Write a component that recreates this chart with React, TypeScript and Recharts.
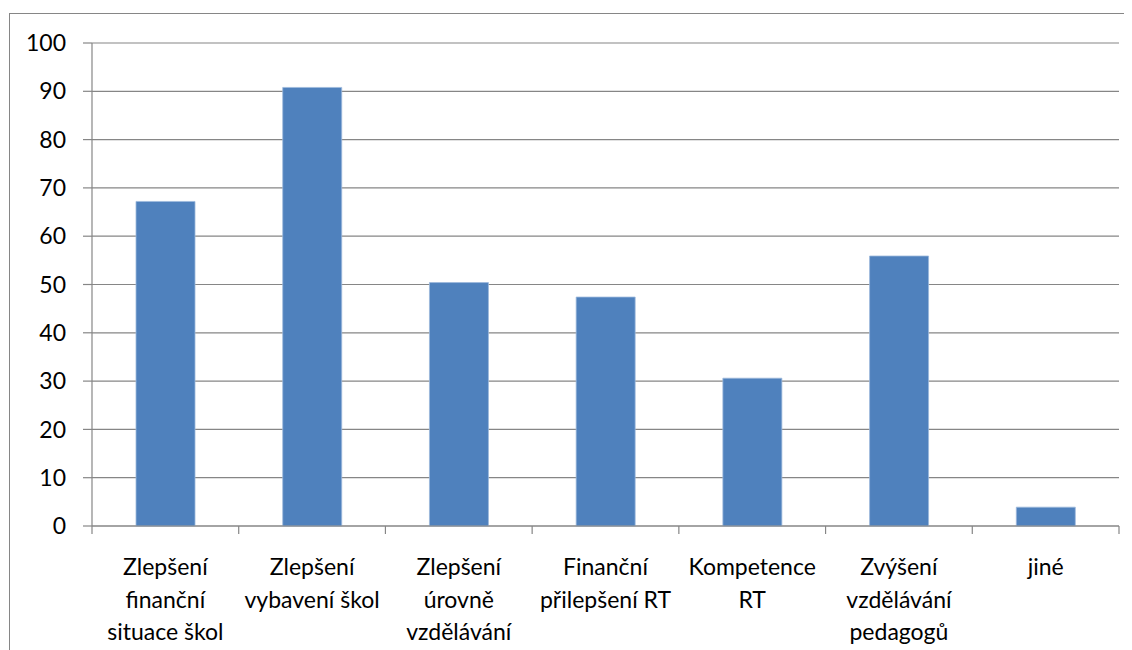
import { BarChart, Bar, XAxis, YAxis, CartesianGrid } from "recharts";

const categories: string[][] = [
  ["Zlepšení", "finanční", "situace škol"],
  ["Zlepšení", "vybavení škol"],
  ["Zlepšení", "úrovně", "vzdělávání"],
  ["Finanční", "přilepšení RT"],
  ["Kompetence", "RT"],
  ["Zvýšení", "vzdělávání", "pedagogů"],
  ["jiné"],
];
const values = [67.2, 90.8, 50.4, 47.4, 30.6, 55.9, 3.9];
const yTicks = [0, 10, 20, 30, 40, 50, 60, 70, 80, 90, 100];

const data = categories.map((lines, i) => ({
  name: lines.join(" "),
  value: values[i],
}));

const FONT = "Lato, 'Open Sans', sans-serif";
const GRID = "#868686";

// label under each band plus the tick marks on the band edges
function CategoryTick({ x, y, payload }: any) {
  const lines = categories[payload.index] ?? [payload.value];
  const half = payload.offset ?? 0;
  const isLast = payload.index === categories.length - 1;
  return (
    <g>
      <line x1={x - half} x2={x - half} y1={y - 2} y2={y + 6} stroke={GRID} strokeWidth={1.2} />
      {isLast && (
        <line x1={x + half} x2={x + half} y1={y - 2} y2={y + 6} stroke={GRID} strokeWidth={1.2} />
      )}
      <text x={x} y={y + 47} textAnchor="middle" fontFamily={FONT} fontSize={23} fill="#000">
        {lines.map((l, i) => (
          <tspan key={i} x={x} dy={i === 0 ? 0 : 32.5}>
            {l}
          </tspan>
        ))}
      </text>
    </g>
  );
}

export default function App() {
  return (
    <div style={{ position: "relative", width: 1124, height: 642, overflow: "hidden" }}>
      <div
        style={{
          position: "absolute",
          left: 1,
          top: 5,
          width: 1200,
          height: 700,
          border: `1px solid ${GRID}`,
          boxSizing: "border-box",
        }}
      />
      <BarChart
        width={1124}
        height={642}
        data={data}
        margin={{ top: 35, right: 13, bottom: 0, left: 0 }}
        barCategoryGap="30%"
        style={{ position: "absolute", left: 0, top: 0 }}
      >
        <CartesianGrid vertical={false} stroke={GRID} strokeWidth={1.2} />
        <XAxis
          dataKey="name"
          height={124}
          tick={<CategoryTick />}
          tickLine={false}
          tickSize={0}
          axisLine={{ stroke: GRID, strokeWidth: 1.2 }}
          interval={0}
        />
        <YAxis
          width={84}
          domain={[0, 100]}
          ticks={yTicks}
          interval={0}
          tickSize={9}
          tickMargin={17}
          tickLine={{ stroke: GRID, strokeWidth: 1.2 }}
          axisLine={{ stroke: GRID, strokeWidth: 1.2 }}
          tick={{ fill: "#000", fontSize: 23, fontFamily: FONT }}
        />
        <Bar
          dataKey="value"
          fill="#4F81BD"
          stroke="#9DB9DC"
          strokeWidth={0.8}
          isAnimationActive={false}
        />
      </BarChart>
    </div>
  );
}
